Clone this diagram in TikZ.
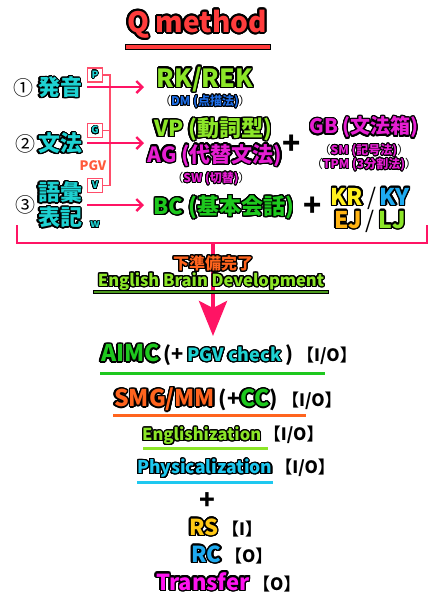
\documentclass[tikz,border=0pt]{standalone}
\usepackage{fontspec}
\setmainfont{Noto Sans CJK JP}
\usepackage{contour}
\contournumber{24}
\usetikzlibrary{arrows.meta}
\definecolor{qred}{HTML}{FF3C3C}
\definecolor{arrowred}{HTML}{FF1464}
\definecolor{linered}{HTML}{FF4D6A}
\definecolor{cyanj}{HTML}{1ED2D2}
\definecolor{lime}{HTML}{8CE628}
\definecolor{magj}{HTML}{E61ED2}
\definecolor{magb}{HTML}{FF14F0}
\definecolor{greenj}{HTML}{1EC81E}
\definecolor{bluedm}{HTML}{1E6EE6}
\definecolor{yellowkr}{HTML}{FFF01E}
\definecolor{bluekr}{HTML}{1EAAF0}
\definecolor{orangeej}{HTML}{FFB414}
\definecolor{orangej}{HTML}{FF641E}
\definecolor{pgvred}{HTML}{FF5A3C}
\definecolor{yellowrs}{HTML}{FFC814}
\definecolor{cyanph}{HTML}{1EC8F0}
\definecolor{darkgreen}{HTML}{4C9A1E}
\newcommand\ol[3][1.3pt]{{\contourlength{#1}\textcolor{#2}{\contour{black}{#3}}}}
\newcommand\fs[1]{\fontsize{#1}{#1}\selectfont}
\tikzset{
  txt/.style={inner sep=0pt, font=\bfseries},
  lbox/.style={draw=linered, fill=white, line width=1.2pt, minimum width=15pt, minimum height=14pt, inner sep=0pt, font=\bfseries\fs{10}},
  thinline/.style={draw=linered, line width=1.2pt},
  arr/.style={draw=arrowred, line width=2.4pt, -{Straight Barb[length=6pt,width=12pt,line width=2.4pt]}},
  brack/.style={draw=arrowred, line width=2.6pt},
  bigarr/.style={draw=arrowred, line width=4pt, -{Stealth[length=35pt,width=28pt,inset=7pt]}},
}
\begin{document}
\begin{tikzpicture}[x=1pt,y=-1pt]
\useasboundingbox[fill=white] (0,0) rectangle (441,600);
% title
\node[txt, font=\bfseries\fs{28}] (title) at (197,25) {\ol[1.8pt]{qred}{Q method}};
\path[fill=qred, draw=black, line width=1pt] (125,44.5) rectangle (270,49.5);
% row 1
\node[txt, font=\fs{20}] (c1) at (23,88) {①};
\node[txt, font=\bfseries\fs{22}] (hatsuon) at (60,88) {\ol{cyanj}{発音}};
\node[lbox] (pbox) at (95,75) {\ol[0.6pt]{cyanj}{P}};
% row 2
\node[txt, font=\fs{20}] (c2) at (25,144) {②};
\node[txt, font=\bfseries\fs{22}] (bunpo) at (60,144) {\ol{cyanj}{文法}};
\node[lbox] (gbox) at (95,130.5) {\ol[0.6pt]{cyanj}{G}};
\node[txt, font=\bfseries\fs{13}] (pgv) at (93,166) {\textcolor{pgvred}{PGV}};
\node[lbox] (vbox) at (95,185.5) {\ol[0.6pt]{cyanj}{V}};
% row 3
\node[txt, font=\fs{20}] (c3) at (25,205) {③};
\node[txt, font=\bfseries\fs{22}] (goi) at (60,193) {\ol{cyanj}{語彙}};
\node[txt, font=\bfseries\fs{22}] (hyoki) at (60,218) {\ol{cyanj}{表記}};
\node[txt, font=\bfseries\fs{11}] (w) at (95,225) {\ol[0.6pt]{cyanj}{w}};
% connector lines from boxes
\coordinate (vx) at (110,0);
\draw[thinline] (pbox.east) -| (vbox.east -| vx) -- (vbox.east);
\draw[thinline] (gbox.east) -- (gbox.east -| vx);
% arrows
\coordinate (a1s) at (87,87);  \coordinate (a1e) at (144,87);
\coordinate (a2s) at (87,143); \coordinate (a2e) at (144,143);
\coordinate (a3s) at (87,205); \coordinate (a3e) at (144,205);
\draw[arr] (a1s) -- (a1e);
\draw[arr] (a2s) -- (a2e);
\draw[arr] (a3s) -- (a3e);
% right side, row 1
\node[txt, font=\bfseries\fs{25}] (rk) at (205,80) {\ol[1.5pt]{lime}{RK/REK}};
\node[txt, font=\fs{12}] (dm) at (205,102) {（\ol[0.8pt]{bluedm}{\bfseries DM (点描法)}）};
% row 2 right
\node[txt, font=\bfseries\fs{22}] (vp) at (213,130) {\ol[1.4pt]{lime}{VP (動詞型)}};
\node[txt, font=\bfseries\fs{21}] (ag) at (215,156) {\ol[1.4pt]{magj}{AG (代替文法)}};
\node[txt, font=\fs{12}] (sw) at (211,179) {（\ol[0.8pt]{magj}{\bfseries SW (切替)}）};
\node[txt, font=\bfseries\fs{30}] (plus1) at (292,145) {+};
\node[txt, font=\bfseries\fs{20}] (gb) at (364,128) {\ol[1.3pt]{magj}{GB (文法箱)}};
\node[txt, font=\fs{12}] (sm) at (364,151) {（\ol[0.8pt]{magj}{\bfseries SM (記号法)}）};
\node[txt, font=\fs{12}] (tpm) at (364,165) {（\ol[0.8pt]{magj}{\bfseries TPM (3分割法)}）};
% row 3 right
\node[txt, font=\bfseries\fs{22}] (bc) at (224,208) {\ol[1.4pt]{greenj}{BC (基本会話)}};
\node[txt, font=\bfseries\fs{30}] (plus2) at (313,207) {+};
\node[txt, font=\bfseries\fs{23}] (kr) at (370,198) {\ol[1.4pt]{yellowkr}{KR}\,{\mdseries /}\,\ol[1.4pt]{bluekr}{KY}};
\node[txt, font=\bfseries\fs{23}] (ej) at (370,221) {\ol[1.4pt]{orangeej}{EJ}\,{\mdseries /}\,\ol[1.4pt]{lime}{LJ}};
% bracket and big arrow
\coordinate (bl) at (17,225); \coordinate (br) at (427,225);
\coordinate (bm) at (213,243); \coordinate (tip) at (213,336);
\draw[brack] (bl) |- (bm) -| (br);
\draw[bigarr] (bm) -- (tip);
\node[txt, font=\bfseries\fs{16}] (junbi) at (213,264) {\ol[1.2pt]{orangej}{下準備完了}};
\draw[black, line width=3.5pt] (93,292) -- (329,292);
\draw[darkgreen, line width=1.6pt] (94,292) -- (328,292);
\node[txt, font=\bfseries\fs{16.5}] (ebd) at (211,282) {\ol[1.2pt]{lime}{English Brain Development}};
% bottom list
\node[txt, anchor=west, font=\bfseries\fs{23}] (aimc) at (101,355) {\ol[1.5pt]{greenj}{AIMC}\,{\fs{20}(+\,}\ol[1.2pt]{cyanj}{\fs{18}PGV check}\,{\fs{20})}\,{\fs{17}【I/O】}};
\draw[greenj, line width=3pt] (100,373) -- (325,373);
\node[txt, anchor=west, font=\bfseries\fs{23}] (smg) at (114,400) {\ol[1.5pt]{orangej}{SMG/MM}\,{\fs{21}(+}\ol[1.5pt]{greenj}{CC}{\fs{21})}\,{\fs{17}【I/O】}};
\draw[orangej, line width=3pt] (113,415) -- (306,415);
\node[txt, anchor=west, font=\bfseries\fs{16.5}] (engl) at (142,436) {\ol[1.2pt]{lime}{Englishization}\,{\fs{17}【I/O】}};
\draw[lime, line width=3pt] (143,448) -- (268,448);
\node[txt, anchor=west, font=\bfseries\fs{17.5}] (phys) at (137,469) {\ol[1.2pt]{cyanph}{Physicalization}\,{\fs{17}【I/O】}};
\draw[cyanph, line width=3pt] (137,482) -- (273,482);
\node[txt, font=\bfseries\fs{26}] (plus3) at (207,501) {+};
\node[txt, anchor=west, font=\bfseries\fs{22}] (rs) at (189,528) {\ol[1.5pt]{yellowrs}{RS}\,{\fs{17}【I】}};
\node[txt, anchor=west, font=\bfseries\fs{22}] (rc) at (191,555) {\ol[1.5pt]{bluekr}{RC}\,{\fs{17}【O】}};
\node[txt, anchor=west, font=\bfseries\fs{22}] (tr) at (156,582) {\ol[1.5pt]{magb}{Transfer}\,{\fs{17}【O】}};
\end{tikzpicture}
\end{document}
